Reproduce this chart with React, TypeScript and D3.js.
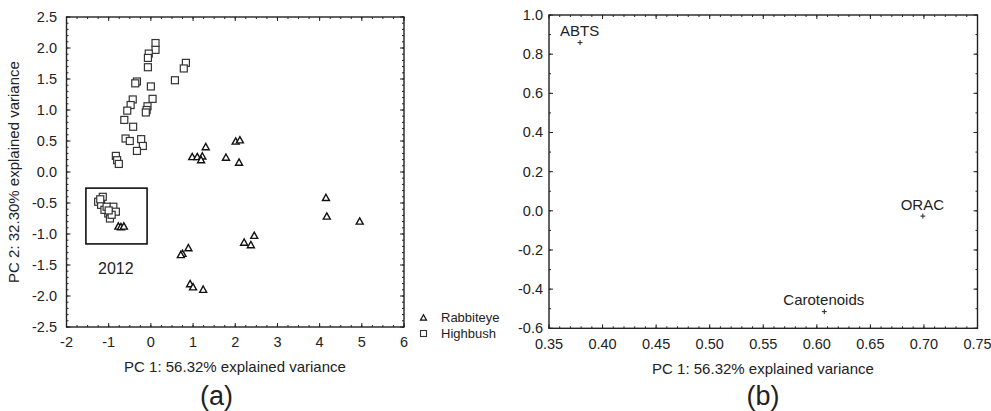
import React from "react";
import * as d3 from "d3";

// ---------- Data ----------
const highbushX = [0.11, 0.11, -0.05, -0.07, -0.07, 0.83, 0.78, 0.57, -0.33, -0.37, 0.0, 0.04, -0.43, -0.48, -0.56, -0.08, -0.1, -0.12, -0.63, -0.42, -0.6, -0.5, -0.23, -0.19, -0.33, -0.83, -0.8, -0.76,
  -1.14, -1.25, -1.18, -0.89, -0.83, -1.01, -0.97, -1.1, -1.05, -0.93, -1.2, -1.0];
const highbushY = [2.08, 1.97, 1.91, 1.84, 1.69, 1.76, 1.67, 1.48, 1.46, 1.43, 1.38, 1.18, 1.17, 1.08, 0.99, 1.06, 1.0, 0.96, 0.84, 0.73, 0.54, 0.5, 0.53, 0.42, 0.34, 0.26, 0.19, 0.13,
  -0.4, -0.48, -0.53, -0.56, -0.64, -0.67, -0.75, -0.61, -0.56, -0.69, -0.44, -0.62];
const rabbiteyeX = [1.3, 0.98, 1.1, 1.22, 1.19, 1.78, 2.09, 2.01, 2.11, 4.15, 4.17, 4.95, 2.45, 2.21, 2.37, 0.89, 0.75, 0.71, 0.93, 1.0, 1.24, -0.77, -0.71, -0.64];
const rabbiteyeY = [0.41, 0.25, 0.25, 0.26, 0.2, 0.24, 0.16, 0.5, 0.52, -0.41, -0.71, -0.79, -1.02, -1.13, -1.17, -1.22, -1.31, -1.33, -1.8, -1.85, -1.89, -0.87, -0.88, -0.87];

const boxX = [-1.54, -0.09];
const boxY = [-0.26, -1.16];
const boxLabel = "2012";
const boxLabelPos = [-0.83, -1.55];

const loadingNames = ["ABTS", "ORAC", "Carotenoids"];
const loadingX = [0.379, 0.699, 0.607];
const loadingY = [0.859, -0.027, -0.515];

const leftXTicks = [-2, -1, 0, 1, 2, 3, 4, 5, 6];
const leftYTicks = [2.5, 2.0, 1.5, 1.0, 0.5, 0.0, -0.5, -1.0, -1.5, -2.0, -2.5];
const rightXTicks = [0.35, 0.4, 0.45, 0.5, 0.55, 0.6, 0.65, 0.7, 0.75];
const rightYTicks = [1.0, 0.8, 0.6, 0.4, 0.2, 0.0, -0.2, -0.4, -0.6];

const legendNames = ["Rabbiteye", "Highbush"];

const FONT = "'Liberation Sans', Arial, sans-serif";
const TXT = "#222";

function range(a: number, b: number, step: number) {
  const out: number[] = [];
  const n = Math.round((b - a) / step);
  for (let i = 0; i <= n; i++) out.push(a + i * step);
  return out;
}

function Frame({ x, y, xMinor, yMinor, xMajor, yMajor }: any) {
  const [x0, x1] = x.range();
  const [y0, y1] = y.range();
  const items: any[] = [];
  xMinor.forEach((v: number, i: number) => {
    const px = x(v);
    items.push(<line key={"xb" + i} x1={px} x2={px} y1={y0} y2={y0 - 2} />);
    items.push(<line key={"xt" + i} x1={px} x2={px} y1={y1} y2={y1 + 2} />);
  });
  xMajor.forEach((v: number, i: number) => {
    const px = x(v);
    items.push(<line key={"xB" + i} x1={px} x2={px} y1={y0} y2={y0 - 4} />);
    items.push(<line key={"xT" + i} x1={px} x2={px} y1={y1} y2={y1 + 4} />);
  });
  yMinor.forEach((v: number, i: number) => {
    const py = y(v);
    items.push(<line key={"yl" + i} x1={x0} x2={x0 + 2} y1={py} y2={py} />);
    items.push(<line key={"yr" + i} x1={x1} x2={x1 - 2} y1={py} y2={py} />);
  });
  yMajor.forEach((v: number, i: number) => {
    const py = y(v);
    items.push(<line key={"yL" + i} x1={x0} x2={x0 + 4} y1={py} y2={py} />);
    items.push(<line key={"yR" + i} x1={x1} x2={x1 - 4} y1={py} y2={py} />);
  });
  return (
    <g stroke="#222" strokeWidth={1}>
      {items}
      <rect x={x0} y={y1} width={x1 - x0} height={y0 - y1} fill="none" strokeWidth={1.4} />
    </g>
  );
}

function tri(cx: number, cy: number, s: number) {
  const h = s * 0.9;
  return `M${cx},${cy - h / 2}L${cx + s / 2},${cy + h / 2}L${cx - s / 2},${cy + h / 2}Z`;
}

const fmt1 = (v: number) => d3.format(".1f")(v).replace("\u2212", "-");
const fmt2 = (v: number) => d3.format(".2f")(v).replace("\u2212", "-");
const fmt0 = (v: number) => d3.format("d")(v).replace("\u2212", "-");

export default function App() {
  const xL = d3.scaleLinear().domain([-2, 6]).range([66.5, 404]);
  const yL = d3.scaleLinear().domain([-2.5, 2.5]).range([327, 17]);
  const xR = d3.scaleLinear().domain([0.35, 0.75]).range([549, 977.5]);
  const yR = d3.scaleLinear().domain([-0.6, 1.0]).range([328.3, 15]);

  const hb = highbushX.map((v, i) => [v, highbushY[i]]);
  const rb = rabbiteyeX.map((v, i) => [v, rabbiteyeY[i]]);

  return (
    <svg width={991} height={411} style={{ position: "absolute", left: 0, top: 0, background: "#fff" }} fontFamily={FONT}>
      <rect width={991} height={411} fill="#fff" />
      {/* ---------- Left panel ---------- */}
      <Frame x={xL} y={yL}
        xMinor={range(-2, 6, 0.25)} xMajor={leftXTicks}
        yMinor={range(-2.5, 2.5, 0.1)} yMajor={leftYTicks} />
      <g fontSize={14.5} fill={TXT}>
        {leftXTicks.map((v) => (
          <text key={"lx" + v} x={xL(v)} y={347} textAnchor="middle">{fmt0(v)}</text>
        ))}
        {leftYTicks.map((v) => (
          <text key={"ly" + v} x={57} y={yL(v) + 5} textAnchor="end">{fmt1(v)}</text>
        ))}
        <text x={235} y={371.5} textAnchor="middle" fontSize={15}>PC 1: 56.32% explained variance</text>
        <text transform={`translate(19,172) rotate(-90)`} textAnchor="middle" fontSize={15}>PC 2: 32.30% explained variance</text>
        <text x={216.5} y={405} textAnchor="middle" fontSize={27}>(a)</text>
      </g>
      {/* 2012 box */}
      <rect x={xL(boxX[0])} y={yL(boxY[0])} width={xL(boxX[1]) - xL(boxX[0])} height={yL(boxY[1]) - yL(boxY[0])}
        fill="none" stroke="#111" strokeWidth={1.6} />
      <text x={xL(boxLabelPos[0])} y={yL(boxLabelPos[1]) + 6} textAnchor="middle" fontSize={16} fill={TXT}>{boxLabel}</text>
      {/* Highbush squares */}
      <g fill="none" stroke="#333" strokeWidth={1.2}>
        {hb.map((d, i) => (
          <rect key={"h" + i} x={xL(d[0]) - 3.5} y={yL(d[1]) - 3.5} width={7} height={7} fill="#fff" />
        ))}
      </g>
      {/* Rabbiteye triangles */}
      <g fill="#fff" stroke="#111" strokeWidth={1.4}>
        {rb.map((d, i) => (
          <path key={"r" + i} d={tri(xL(d[0]), yL(d[1]), 7)} />
        ))}
      </g>
      {/* Legend */}
      <g fontSize={13} fill={TXT}>
        <path d={tri(423.5, 317.5, 6)} fill="#fff" stroke="#111" strokeWidth={1.2} />
        <text x={441} y={322}>{legendNames[0]}</text>
        <rect x={420.5} y={330.5} width={6} height={6} fill="#fff" stroke="#333" strokeWidth={1.1} />
        <text x={441} y={338}>{legendNames[1]}</text>
      </g>

      {/* ---------- Right panel ---------- */}
      <Frame x={xR} y={yR}
        xMinor={range(0.35, 0.75, 0.01)} xMajor={rightXTicks}
        yMinor={range(-0.6, 1.0, 0.1)} yMajor={rightYTicks} />
      <g fontSize={14.5} fill={TXT}>
        {rightXTicks.map((v) => (
          <text key={"rx" + v} x={xR(v)} y={348.5} textAnchor="middle">{fmt2(v)}</text>
        ))}
        {rightYTicks.map((v) => (
          <text key={"ry" + v} x={543} y={yR(v) + 5} textAnchor="end">{fmt1(v)}</text>
        ))}
        <text x={763} y={373.5} textAnchor="middle" fontSize={15}>PC 1: 56.32% explained variance</text>
        <text x={763} y={405} textAnchor="middle" fontSize={27}>(b)</text>
      </g>
      <g>
        {loadingNames.map((n, i) => {
          const px = xR(loadingX[i]);
          const py = yR(loadingY[i]);
          return (
            <g key={n}>
              <path d={`M${px - 2.5},${py}H${px + 2.5}M${px},${py - 2.5}V${py + 2.5}`} stroke="#222" strokeWidth={1} />
              <text x={px - 0.5} y={py - 6.5} textAnchor="middle" fontSize={15} fill={TXT}>{n}</text>
            </g>
          );
        })}
      </g>
    </svg>
  );
}
